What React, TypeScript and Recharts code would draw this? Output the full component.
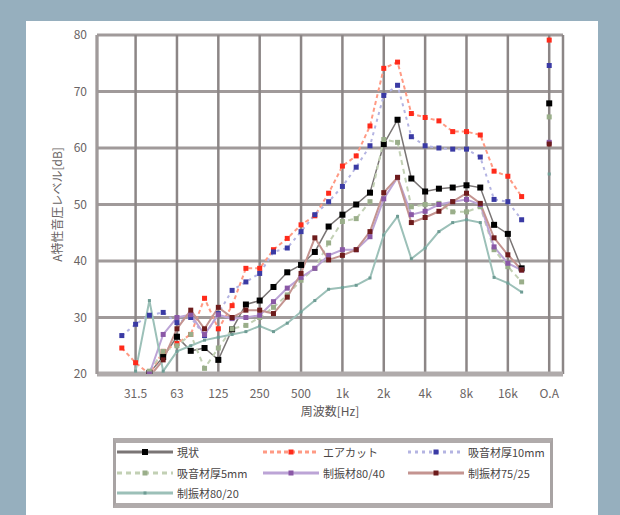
import { CartesianGrid, Line, LineChart, XAxis, YAxis } from "recharts";

// 1/3 octave bands, then an empty slot and the overall value
const bands = ["25", "31.5", "40", "50", "63", "80", "100", "125", "160", "200", "250", "315", "400", "500", "630", "800", "1k", "1.25k", "1.6k", "2k", "2.5k", "3.15k", "4k", "5k", "6.3k", "8k", "10k", "12.5k", "16k", "20k", "", "O.A"];
const tickIndex = [1, 4, 7, 10, 13, 16, 19, 22, 25, 28, 31];
const yTicks = [20, 30, 40, 50, 60, 70, 80];

const genjo = [null, null, 20.2, 23, 26.6, 24.1, 24.6, 22.5, 27.9, 32.3, 33, 35.4, 38, 39.3, 41.6, 46.1, 48.2, 50, 52.1, 60.7, 65, 54.6, 52.3, 52.8, 53, 53.4, 53, 46.4, 44.8, 38.7, null, 67.9];
const aircut = [24.6, 22, 20, 24, 25.4, 27, 33.4, 28, 32.1, 38.7, 38.7, 42, 44, 46.4, 48, 52, 56.8, 58.6, 63.9, 74.1, 75.2, 66.1, 65.4, 64.8, 62.9, 62.9, 62.3, 55.9, 55, 51.4, null, 79.1];
const kyuon10 = [26.8, 28.8, 30.4, 30.9, 29.1, 30, 26.8, 30.7, 34.8, 36.3, 37.8, 41.6, 42.3, 45.2, 48.2, 50.5, 53.2, 56.6, 60.4, 69.3, 71.1, 62, 60.4, 60, 59.8, 59.8, 58.4, 50.9, 50.5, 47.3, null, 74.6];
const kyuon5 = [null, null, 20.5, 24, 25, 27, 21, 24.6, 28, 28.6, 30, 31.8, 34, 36.6, 38.7, 43.2, 47, 47.5, 50.5, 61.5, 61, 49.6, 50, 50.2, 48.7, 48.7, 49.6, 42, 39, 36.3, null, 65.5];
const seishin8040 = [null, null, 20, 27, 30, 30.5, 27, 30.5, 29.8, 30, 30.4, 32.8, 35.2, 37.1, 38.7, 41, 42, 42, 44.3, 51, 54.8, 48.2, 48.8, 50, 50.5, 50.9, 50, 42.5, 39.6, 38.4, null, 61];
const seishin7525 = [null, null, 19.5, 22.5, 28, 31.3, 28, 31.8, 30, 31.3, 31.3, 30.7, 33.6, 37.8, 44.1, 40.2, 41, 42, 45.2, 52.1, 54.8, 46.8, 47.7, 48.8, 50.5, 52, 50.2, 44.1, 41.1, 38.4, null, 60.7];
const seishin8020 = [null, 20.5, 33, 20.5, 24, 25, 26, 26.5, 27, 27.5, 28.5, 27.5, 29, 31, 33, 35, 35.3, 35.7, 37, 44.6, 47.9, 40.4, 42.3, 45.2, 46.8, 47.3, 46.8, 37.1, 36.1, 34.5, null, 55.4];

const series = [
  { key: "genjo", name: "現状", values: genjo, line: "#7a7575", dot: "#000000", size: 6, dash: undefined, width: 1.5 },
  { key: "aircut", name: "エアカット", values: aircut, line: "#ff9a84", dot: "#ff2a1a", size: 5, dash: "4 3", width: 2 },
  { key: "kyuon10", name: "吸音材厚10mm", values: kyuon10, line: "#b4b4e2", dot: "#3a3aa4", size: 5, dash: "3 4", width: 2 },
  { key: "kyuon5", name: "吸音材厚5mm", values: kyuon5, line: "#c2d0b4", dot: "#9aae8a", size: 5, dash: "5 4", width: 2 },
  { key: "s8040", name: "制振材80/40", values: seishin8040, line: "#bca4d6", dot: "#8a58a6", size: 5, dash: undefined, width: 2 },
  { key: "s7525", name: "制振材75/25", values: seishin7525, line: "#c49490", dot: "#6e1c1c", size: 5, dash: undefined, width: 2 },
  { key: "s8020", name: "制振材80/20", values: seishin8020, line: "#9cc0b8", dot: "#6e9c94", size: 3, dash: undefined, width: 2 },
];

const data = bands.map((band, i) => {
  const row: Record<string, number | string | null> = { i, band };
  series.forEach((s) => {
    row[s.key] = s.values[i];
  });
  return row;
});

const font = '"Noto Sans CJK JP", "Noto Sans", sans-serif';

function squareDot(color: string, size: number) {
  return (props: any) => {
    const { cx, cy, index, value } = props;
    if (cx == null || cy == null || value == null) return <g key={index} />;
    return <rect key={index} x={cx - size / 2} y={cy - size / 2} width={size} height={size} fill={color} />;
  };
}

function LegendBox() {
  const cols = [117, 263, 408];
  const rows = [452, 473, 493];
  return (
    <div
      style={{
        position: "absolute",
        left: 113,
        top: 438,
        width: 434,
        height: 60,
        borderTop: "5px solid #b0abab",
        borderBottom: "5px solid #b0abab",
        borderLeft: "3px solid #a8a3a3",
        borderRight: "3px solid #a8a3a3",
        background: "#fff",
      }}
    >
      {series.map((s, n) => {
        const left = cols[n % 3] - 116;
        const top = rows[Math.floor(n / 3)] - 443 - 7;
        return (
          <div key={s.key} style={{ position: "absolute", left, top, display: "flex", alignItems: "center", height: 14 }}>
            <svg width={56} height={10}>
              <line x1={0} y1={5} x2={56} y2={5} stroke={s.line} strokeWidth={3} strokeDasharray={s.dash} />
              <rect x={28 - s.size / 2} y={5 - s.size / 2} width={s.size} height={s.size} fill={s.dot} />
            </svg>
            <span style={{ marginLeft: 4, fontFamily: font, fontSize: 11, color: "#4a4646", whiteSpace: "nowrap" }}>{s.name}</span>
          </div>
        );
      })}
    </div>
  );
}

export default function App() {
  return (
    <div style={{ position: "fixed", left: 0, top: 0, width: 620, height: 515, background: "#96afbe", overflow: "hidden" }}>
      <div style={{ position: "absolute", left: 26, top: 21, width: 572, height: 494, background: "#fff" }} />
      <div style={{ position: "absolute", left: 0, top: 0 }}>
        <LineChart width={620} height={515} data={data} margin={{ top: 35, right: 57, left: 67, bottom: 111 }}>
          <CartesianGrid horizontal={true} vertical={false} stroke="#a09a9a" strokeWidth={3} />
          <CartesianGrid horizontal={false} vertical={true} stroke="#8c8686" strokeWidth={2.5} />
          <XAxis
            dataKey="i"
            type="number"
            domain={[-1.8, 32]}
            ticks={tickIndex}
            allowDataOverflow
            height={30}
            tickFormatter={(v: number) => bands[v]}
            tick={{ fill: "#6a6464", fontSize: 12, fontFamily: font }}
            tickLine={false}
            tickSize={8}
            tickMargin={7}
            axisLine={{ stroke: "#b0abab", strokeWidth: 5 }}
            label={{ value: "周波数[Hz]", position: "bottom", offset: 3, fill: "#5a5555", fontSize: 12, fontFamily: font }}
          />
          <XAxis
            xAxisId="top"
            orientation="top"
            dataKey="i"
            type="number"
            domain={[-1.8, 32]}
            allowDataOverflow
            height={0}
            tick={false}
            tickLine={false}
            axisLine={{ stroke: "#b0abab", strokeWidth: 5 }}
          />
          <YAxis
            domain={[20, 80]}
            ticks={yTicks}
            allowDataOverflow
            width={30}
            tick={{ fill: "#6a6464", fontSize: 12, fontFamily: font }}
            tickLine={false}
            tickSize={8}
            tickMargin={2}
            axisLine={{ stroke: "#a09a9a", strokeWidth: 3 }}
            label={{
              content: (props: any) => {
                const vb = props.viewBox || { x: 67, y: 35, height: 339 };
                const x = vb.x - 11;
                const y = vb.y + vb.height / 2;
                return (
                  <text x={x} y={y} transform={`rotate(-90 ${x} ${y})`} textAnchor="middle" dominantBaseline="central" fill="#6a6464" fontSize={12} fontFamily={font}>
                    A特性音圧レベル[dB]
                  </text>
                );
              },
            }}
          />
          <YAxis yAxisId="right" orientation="right" domain={[20, 80]} width={0} tick={false} tickLine={false} axisLine={{ stroke: "#a09a9a", strokeWidth: 3 }} />
          {series.map((s) => (
            <Line
              key={s.key}
              dataKey={s.key}
              name={s.name}
              stroke={s.line}
              strokeWidth={s.width}
              strokeDasharray={s.dash}
              dot={squareDot(s.dot, s.size)}
              activeDot={false}
              connectNulls={false}
              isAnimationActive={false}
            />
          ))}
        </LineChart>
      </div>
      <LegendBox />
    </div>
  );
}
